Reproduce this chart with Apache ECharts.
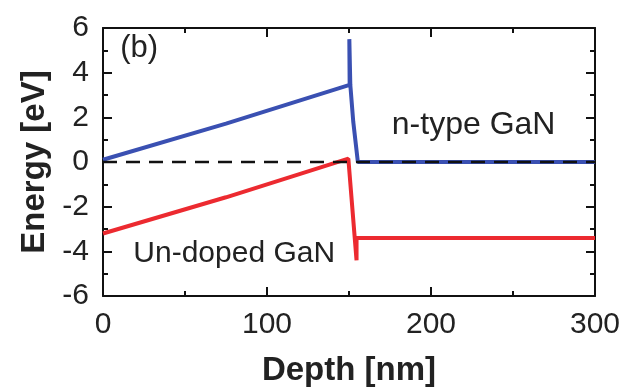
<!DOCTYPE html>
<html>
<head>
<meta charset="utf-8">
<script src="https://cdn.jsdelivr.net/npm/echarts@6/dist/echarts.min.js"></script>
<style>html,body{margin:0;padding:0;background:#fff}#c{width:627px;height:391px}</style>
</head>
<body>
<div id="c"></div>
<script>
// Conduction band (blue) and valence band (red) vs depth
const conductionBand = [[0,0.1],[75,1.72],[150.4,3.45],[150.2,5.5],[150.8,3.45],[152.6,1.8],[155.4,0.0],[300,0.0]];
const valenceBand = [[0,-3.2],[75,-1.58],[149.6,0.15],[154.6,-4.4],[154.6,-3.4],[300,-3.4]];
const fermiLevel = [[0,0],[300,0]];
const xTicks = [0,100,200,300];
const yTicks = [-6,-4,-2,0,2,4,6];
const annotations = [
  {text:'(b)', at:[22,5.1], size:31},
  {text:'n-type GaN', at:[226,1.65], size:32},
  {text:'Un-doped GaN', at:[80,-4.1], size:30}
];

const FONT = '"Liberation Sans", Arial, sans-serif';
const chart = echarts.init(document.getElementById('c'), null, {renderer:'canvas'});
const axisLine = {show:true, onZero:false, lineStyle:{color:'#111', width:2}};
const tick = {show:true, inside:true, length:9, lineStyle:{color:'#111', width:2}};
const minor = {show:true, splitNumber:2, length:5, lineStyle:{color:'#111', width:2}};
const xCommon = {type:'value', min:xTicks[0], max:xTicks[xTicks.length-1], interval:100,
  axisLine, axisTick:tick, minorTick:minor, splitLine:{show:false}, minorSplitLine:{show:false}};
const yCommon = {type:'value', min:yTicks[0], max:yTicks[yTicks.length-1], interval:2,
  axisLine, axisTick:tick, minorTick:minor, splitLine:{show:false}, minorSplitLine:{show:false}};

chart.setOption({
  animation:false,
  backgroundColor:'#fff',
  grid:{left:103, right:32, top:28, bottom:95, containLabel:false, outerBoundsMode:'none'},
  xAxis:[
    Object.assign({}, xCommon, {position:'bottom',
      axisLabel:{show:true, margin:14, fontSize:30, color:'#222', fontFamily:FONT},
      name:'Depth [nm]', nameLocation:'middle', nameGap:58,
      nameTextStyle:{fontSize:33, fontWeight:'bold', color:'#222', fontFamily:FONT}}),
    Object.assign({}, xCommon, {position:'top', axisLabel:{show:false}})
  ],
  yAxis:[
    Object.assign({}, yCommon, {position:'left',
      axisLabel:{show:true, margin:14, fontSize:30, color:'#222', fontFamily:FONT},
      name:'Energy [eV]', nameLocation:'middle', nameGap:50,
      nameTextStyle:{fontSize:33, fontWeight:'bold', color:'#222', fontFamily:FONT}}),
    Object.assign({}, yCommon, {position:'right', axisLabel:{show:false}})
  ],
  series:[
    {type:'line', data:conductionBand, showSymbol:false, lineStyle:{color:'#3a50b2', width:4}, z:2},
    {type:'line', data:valenceBand, showSymbol:false, lineStyle:{color:'#ec2a30', width:4}, z:2},
    {type:'line', data:fermiLevel, showSymbol:false, lineStyle:{color:'#111', width:2.5, type:[14,9]}, z:3},
    {type:'scatter', data:annotations.map(a=>({value:a.at, name:a.text, label:{fontSize:a.size}})), symbolSize:0, z:4,
      itemStyle:{opacity:1},
      label:{show:true, position:'inside', formatter:p=>p.name, color:'#222', opacity:1, fontFamily:FONT}}
  ]
});
</script>
</body>
</html>
